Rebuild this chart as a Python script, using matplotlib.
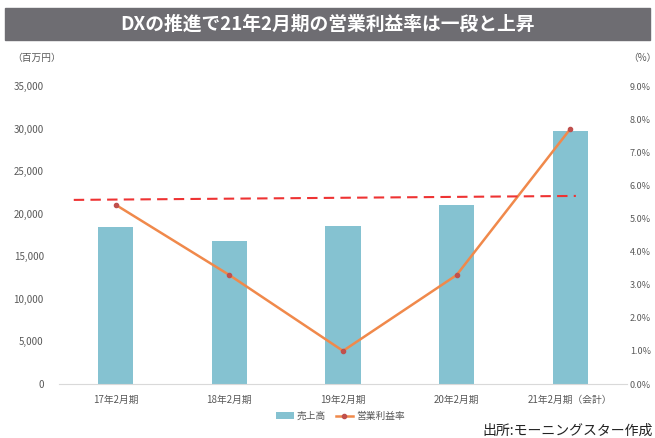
import matplotlib.pyplot as plt
from matplotlib.patches import Rectangle
from matplotlib.ticker import FuncFormatter
import numpy as np

plt.rcParams['font.family'] = ['Noto Sans CJK JP', 'DejaVu Sans']

# data
periods = ["17年2月期", "18年2月期", "19年2月期", "20年2月期", "21年2月期（会計）"]
sales = [18400, 16800, 18600, 21000, 29700]          # 売上高（百万円）
margin = [5.41, 3.29, 1.00, 3.29, 7.70]              # 営業利益率（%）
ref_line_x = [-0.37, 4.05]                           # dashed reference line
ref_line_y = [5.56, 5.68]

bar_color = "#85c2d1"
line_color = "#f0894b"
marker_color = "#c0504d"
tick_color = "#595959"

fig = plt.figure(figsize=(6.55, 4.38), dpi=100)

# title band
fig.patches.append(Rectangle((5 / 655, 1 - 40 / 438), 645 / 655, 32 / 438,
                             transform=fig.transFigure, color="#6e6d72", zorder=0))
fig.text(0.5, 1 - 24 / 438, "DXの推進で21年2月期の営業利益率は一段と上昇",
         ha="center", va="center", color="white", fontsize=13.5, fontweight="bold")

ax = fig.add_axes([59 / 655, 1 - 384 / 438, 568 / 655, 298 / 438])
x = np.arange(len(periods))
ax.bar(x, sales, width=0.31, color=bar_color, label="売上高", zorder=2)
ax.set_xlim(-0.5, 4.5)
ax.set_ylim(0, 35000)
ax.set_yticks(np.arange(0, 35001, 5000))
ax.yaxis.set_major_formatter(FuncFormatter(lambda v, p: f"{int(v):,}"))
ax.set_xticks(x)
ax.set_xticklabels(periods)

for s in ["top", "left", "right"]:
    ax.spines[s].set_visible(False)
ax.spines["bottom"].set_color("#d9d9d9")
ax.tick_params(axis="both", length=0, labelsize=7, colors=tick_color)
ax.tick_params(axis="y", pad=11)
ax.tick_params(axis="x", pad=8)

ax2 = ax.twinx()
ax2.set_ylim(0, 9)
ax2.set_yticks(np.arange(0, 9.01, 1))
ax2.yaxis.set_major_formatter(FuncFormatter(lambda v, p: f"{v:.1f}%"))
for s in ["top", "left", "right", "bottom"]:
    ax2.spines[s].set_visible(False)
ax2.tick_params(axis="y", length=0, labelsize=6.5, colors=tick_color, pad=2)

ax2.plot(x, margin, color=line_color, lw=1.8, marker="o", markersize=3,
         markerfacecolor=marker_color, markeredgecolor=marker_color,
         label="営業利益率", zorder=3)
ax2.plot(ref_line_x, ref_line_y, color="#ee3333", lw=1.5, ls=(0, (5, 3)), zorder=3)

# units
fig.text(12 / 655, 1 - 58 / 438, "（百万円）", fontsize=7, color=tick_color, va="center")
fig.text(628 / 655, 1 - 58 / 438, "（%）", fontsize=7, color=tick_color, va="center")

# legend
h1, l1 = ax.get_legend_handles_labels()
h2, l2 = ax2.get_legend_handles_labels()
fig.legend(h1 + h2, l1 + l2, loc="center", bbox_to_anchor=(0.52, 1 - 416 / 438),
           ncol=2, frameon=False, fontsize=7, labelcolor=tick_color,
           handlelength=1.8, columnspacing=1.0, handletextpad=0.3)

fig.text(653 / 655, 1 - 431 / 438, "出所:モーニングスター作成", ha="right", va="center",
         fontsize=10, color="#222222")

fig.savefig("out.png", dpi=100)
